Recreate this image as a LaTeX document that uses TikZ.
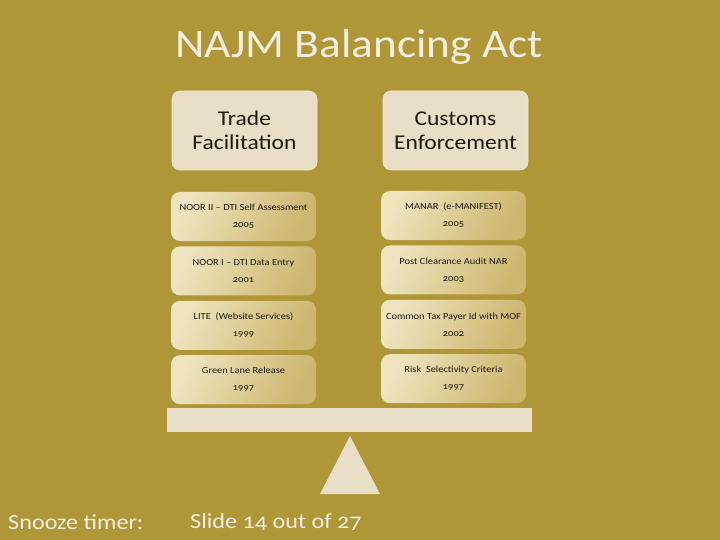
\documentclass[tikz,border=0pt]{standalone}
\usepackage{fontspec}
\setmainfont[Numbers=OldStyle, FakeStretch=1.12]{Carlito}
\usepackage{xcolor}
\usepackage{tikz}
\usetikzlibrary{positioning,shapes,calc}

\definecolor{slidebg}{RGB}{175,151,56}
\definecolor{cream}{RGB}{232,223,198}
\definecolor{titlecream}{RGB}{244,238,222}
\definecolor{itemlight}{RGB}{238,228,190}
\definecolor{itemdark}{RGB}{205,182,110}
\definecolor{inktext}{RGB}{30,25,15}

\tikzset{
    hdrbox/.style={rounded corners=8pt, fill=cream, draw=cream!70!white, line width=0.6pt,
        minimum width=145pt, minimum height=79pt, align=center, text=inktext,
        font=\fontsize{21}{24}\selectfont},
    itembox/.style={rounded corners=9pt, left color=itemlight, right color=itemdark,
        shading angle=65, minimum width=145pt, minimum height=49pt, align=center,
        text=inktext, font=\fontsize{9.3}{17}\selectfont},
    slidetext/.style={text=titlecream, inner sep=0pt}
}

\begin{document}
\begin{tikzpicture}[x=1pt, y=-1pt]
    % slide background
    \fill[slidebg] (0,0) rectangle (720,540);
    \useasboundingbox (0,0) rectangle (720,540);

    \node[slidetext, font=\fontsize{40.5}{44}\selectfont] (title) at (359,47) {NAJM Balancing Act};

    % Column headers
    \node[hdrbox] (trade) at (244.5,130.5) {Trade\\Facilitation};
    \node[hdrbox] (customs) at (455.5,130.5) {Customs\\Enforcement};

    % Trade facilitation milestones
    \node[itembox] (noor2) at (243.5,216.5) {NOOR II -- DTI Self Assessment\\2005};
    \node[itembox, below=5pt of noor2] (noor1) {NOOR I -- DTI Data Entry\\2001};
    \node[itembox, below=5pt of noor1] (lite) {LITE\ \ (Website Services)\\1999};
    \node[itembox, below=5pt of lite] (green) {Green Lane Release\\1997};

    % Customs enforcement milestones
    \node[itembox] (manar) at (453.5,215.5) {MANAR\ \ (e-MANIFEST)\\2005};
    \node[itembox, below=5pt of manar] (pca) {Post Clearance Audit NAR\\2003};
    \node[itembox, below=5pt of pca] (ctp) {Common Tax Payer Id with MOF\\2002};
    \node[itembox, below=5pt of ctp] (risk) {Risk\ \ Selectivity Criteria\\1997};

    % Beam and pivot
    \fill[cream] (167,408) rectangle (532,432);
    \fill[cream] (350,436) -- (380,494) -- (320,494) -- cycle;

    % Footer
    \node[slidetext, anchor=west, font=\fontsize{21.6}{24}\selectfont] (snooze) at (8,522) {Snooze timer:};
    \node[slidetext, anchor=west, font=\fontsize{21.6}{24}\selectfont] (slideno) at (190,522) {Slide 14 out of 27};
\end{tikzpicture}
\end{document}
